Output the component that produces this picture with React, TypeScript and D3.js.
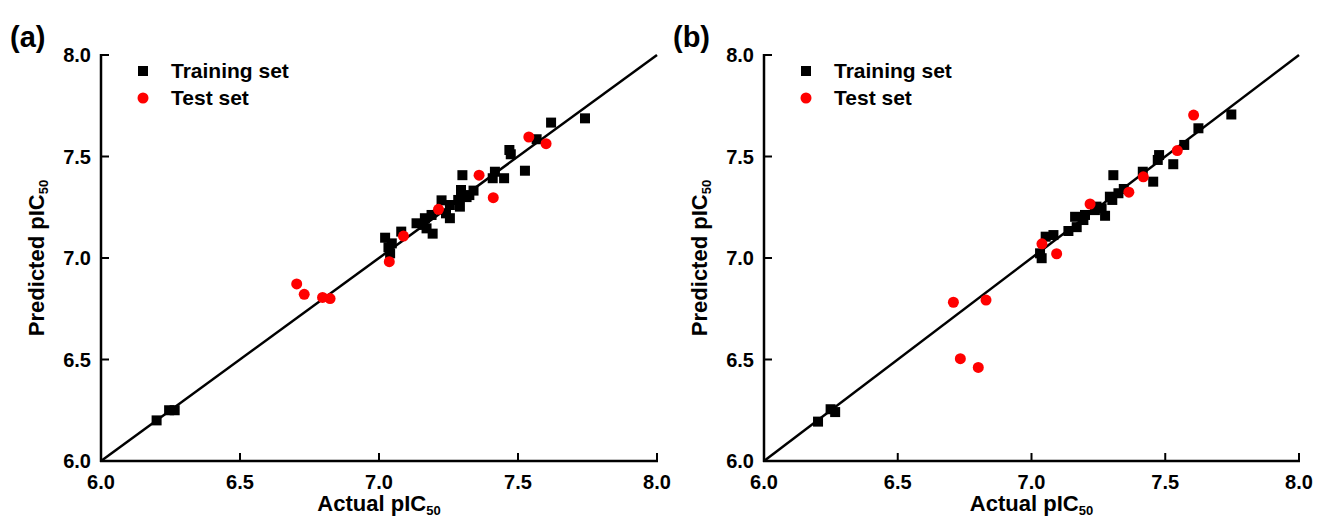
import React from "react";
import * as d3 from "d3";

// axis ticks shared by both panels
const tickValues = [6.0, 6.5, 7.0, 7.5, 8.0];

// panel (a) - training set
const trainActualA = [6.2, 6.245, 6.265, 7.022, 7.034, 7.04, 7.046, 7.08, 7.135, 7.16, 7.165, 7.171, 7.189, 7.193, 7.225, 7.241, 7.255, 7.255, 7.285, 7.291, 7.295, 7.3, 7.315, 7.325, 7.34, 7.409, 7.417, 7.45, 7.469, 7.474, 7.525, 7.567, 7.619, 7.741];
const trainPredA = [6.2, 6.25, 6.25, 7.1, 7.053, 7.023, 7.072, 7.13, 7.171, 7.163, 7.196, 7.146, 7.212, 7.12, 7.284, 7.22, 7.261, 7.196, 7.286, 7.253, 7.335, 7.408, 7.3, 7.31, 7.332, 7.393, 7.425, 7.393, 7.532, 7.511, 7.43, 7.585, 7.667, 7.688];
// panel (a) - test set
const testActualA = [6.704, 6.731, 6.797, 6.824, 7.037, 7.088, 7.214, 7.36, 7.411, 7.539, 7.601];
const testPredA = [6.872, 6.821, 6.806, 6.8, 6.982, 7.108, 7.24, 7.408, 7.297, 7.596, 7.563];

// panel (b) - training set
const trainActualB = [6.202, 6.249, 6.266, 7.032, 7.038, 7.053, 7.082, 7.138, 7.163, 7.169, 7.194, 7.2, 7.237, 7.243, 7.262, 7.275, 7.293, 7.302, 7.306, 7.325, 7.345, 7.416, 7.455, 7.472, 7.477, 7.53, 7.571, 7.624, 7.747];
const trainPredB = [6.194, 6.255, 6.241, 7.023, 6.999, 7.105, 7.113, 7.133, 7.203, 7.152, 7.187, 7.212, 7.236, 7.253, 7.245, 7.208, 7.302, 7.286, 7.408, 7.319, 7.34, 7.425, 7.376, 7.483, 7.507, 7.462, 7.557, 7.639, 7.707];
// panel (b) - test set
const testActualB = [6.708, 6.734, 6.801, 6.83, 7.039, 7.094, 7.219, 7.364, 7.418, 7.545, 7.606];
const testPredB = [6.782, 6.504, 6.461, 6.793, 7.07, 7.021, 7.266, 7.324, 7.4, 7.529, 7.704];

const FONT = "'Liberation Sans', Arial, Helvetica, sans-serif";
const TOP = 55;
const BOTTOM = 461;

type PanelProps = {
  label: string;
  left: number;
  right: number;
  trainX: number[];
  trainY: number[];
  testX: number[];
  testY: number[];
};

const Panel = ({ label, left, right, trainX, trainY, testX, testY }: PanelProps) => {
  const x = d3.scaleLinear().domain([6, 8]).range([left, right]);
  const y = d3.scaleLinear().domain([6, 8]).range([BOTTOM, TOP]);
  const diag = d3.line<number>().x((d) => x(d)).y((d) => y(d))([6, 8]) || "";
  const sq = 10;

  return (
    <g fontFamily={FONT} fontWeight="bold" fill="#000">
      {/* panel letter */}
      <text x={left - 91} y={47} fontSize={29}>{label}</text>

      {/* y = x reference line */}
      <path d={diag} stroke="#000" strokeWidth={2.5} fill="none" />

      {/* axes */}
      <line x1={left} x2={left} y1={TOP - 1} y2={BOTTOM + 1} stroke="#000" strokeWidth={2.5} />
      <line x1={left - 1} x2={right + 1} y1={BOTTOM} y2={BOTTOM} stroke="#000" strokeWidth={2.5} />
      {tickValues.map((t) => (
        <g key={"y" + t}>
          <line x1={left} x2={left + 8} y1={y(t)} y2={y(t)} stroke="#000" strokeWidth={2} />
          <text x={left - 10} y={y(t) + 7} fontSize={20} textAnchor="end">{t.toFixed(1)}</text>
        </g>
      ))}
      {tickValues.map((t) => (
        <g key={"x" + t}>
          <line x1={x(t)} x2={x(t)} y1={BOTTOM} y2={BOTTOM - 8} stroke="#000" strokeWidth={2} />
          <text x={x(t)} y={489} fontSize={20} textAnchor="middle">{t.toFixed(1)}</text>
        </g>
      ))}

      {/* axis titles */}
      <text x={(left + right) / 2} y={511} fontSize={22} textAnchor="middle">
        Actual pIC<tspan fontSize={13} dy={4}>50</tspan>
      </text>
      <text
        transform={`translate(${left - 57},${(TOP + BOTTOM) / 2}) rotate(-90)`}
        fontSize={22}
        textAnchor="middle"
      >
        Predicted pIC<tspan fontSize={13} dy={4}>50</tspan>
      </text>

      {/* training points */}
      {trainX.map((v, i) => (
        <rect key={"tr" + i} x={x(v) - sq / 2} y={y(trainY[i]) - sq / 2} width={sq} height={sq} fill="#000" />
      ))}
      {/* test points */}
      {testX.map((v, i) => (
        <circle key={"te" + i} cx={x(v)} cy={y(testY[i])} r={5.5} fill="#ff0000" />
      ))}

      {/* legend */}
      <rect x={left + 42 - sq / 2} y={71 - sq / 2} width={sq} height={sq} fill="#000" />
      <text x={left + 70} y={78} fontSize={21}>Training set</text>
      <circle cx={left + 42} cy={98} r={5.5} fill="#ff0000" />
      <text x={left + 70} y={105} fontSize={21}>Test set</text>
    </g>
  );
};

const App = () => {
  return (
    <svg
      width={1317}
      height={520}
      style={{ position: "absolute", left: 0, top: 0, background: "#fff" }}
    >
      <Panel label="(a)" left={101} right={657} trainX={trainActualA} trainY={trainPredA} testX={testActualA} testY={testPredA} />
      <Panel label="(b)" left={764} right={1299} trainX={trainActualB} trainY={trainPredB} testX={testActualB} testY={testPredB} />
    </svg>
  );
};

export default App;
